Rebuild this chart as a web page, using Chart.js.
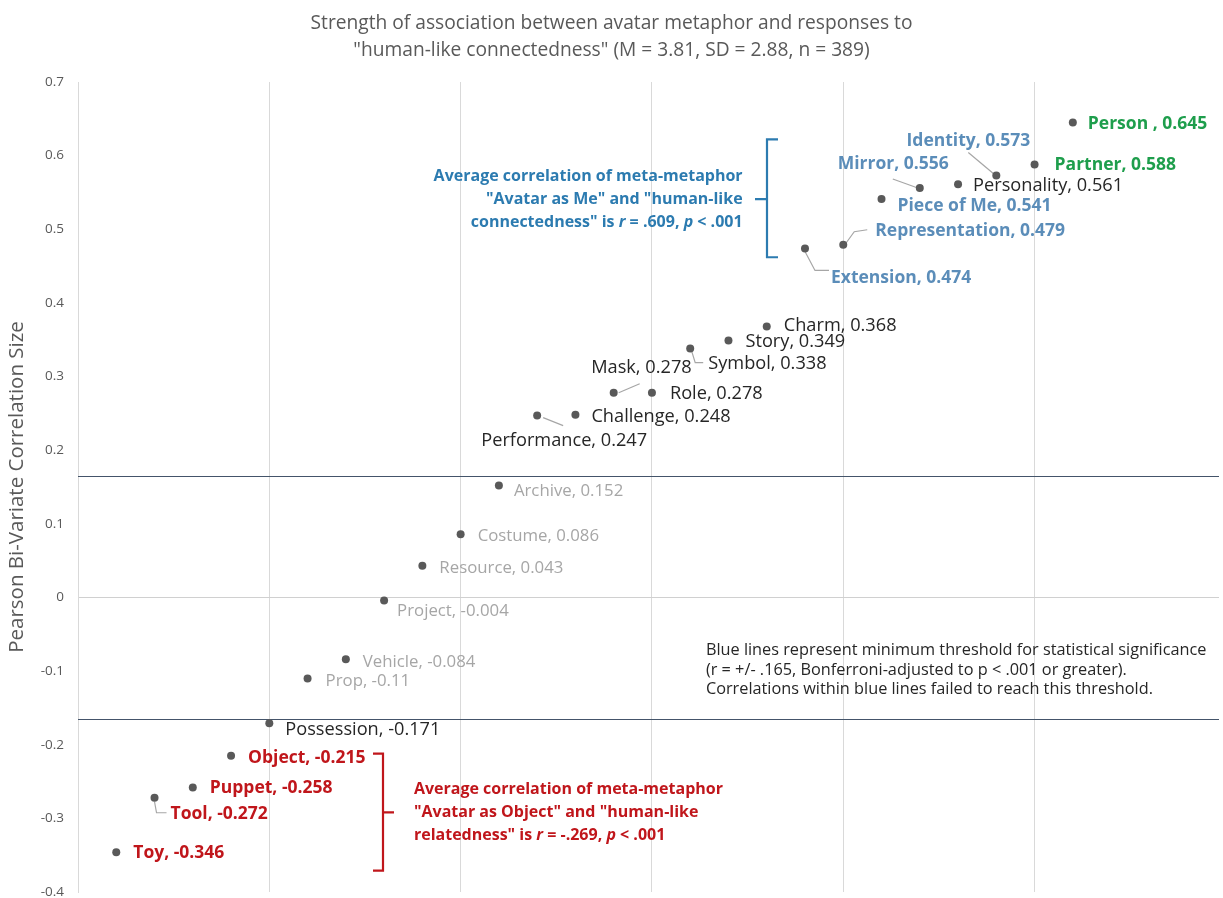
<!DOCTYPE html>
<html>
<head>
<meta charset="utf-8"/>
<style>
  html,body{margin:0;padding:0;background:#fff;overflow:hidden;}
  .wrap{position:relative;width:1223px;height:898px;}
</style>
</head>
<body>
<div class="wrap"><canvas id="c" width="1223" height="898"></canvas></div>
<script src="https://cdn.jsdelivr.net/npm/chart.js@4.4.0/dist/chart.umd.min.js"></script>
<script>
// metaphors sorted by correlation, rank = x position
const metaphors = ['Toy','Tool','Puppet','Object','Possession','Prop','Vehicle','Project','Resource','Costume',
  'Archive','Performance','Challenge','Mask','Role','Symbol','Story','Charm','Extension','Representation',
  'Piece of Me','Mirror','Personality','Identity','Partner','Person '];
const ranks = [1,2,3,4,5,6,7,8,9,10,11,12,13,14,15,16,17,18,19,20,21,22,23,24,25,26];
const correlations = [-0.346,-0.272,-0.258,-0.215,-0.171,-0.11,-0.084,-0.004,0.043,0.086,
  0.152,0.247,0.248,0.278,0.278,0.338,0.349,0.368,0.474,0.479,
  0.541,0.556,0.561,0.573,0.588,0.645];
const yMin = -0.4, yMax = 0.7, yStep = 0.1;
const xMax = 29.82, xStep = 5;
const threshold = 0.165;

const titleLines = [
  'Strength of association between avatar metaphor and responses to',
  '"human-like connectedness" (M = 3.81, SD = 2.88, n = 389)'
];
const yTitle = 'Pearson Bi-Variate Correlation Size';
const noteLines = [
  'Blue lines represent minimum threshold for statistical significance',
  '(r = +/- .165, Bonferroni-adjusted to p < .001 or greater).',
  'Correlations within blue lines failed to reach this threshold.'
];
const meNote = [
  [['Average correlation of meta-metaphor', false]],
  [['"Avatar as Me" and "human-like', false]],
  [['connectedness" is ', false], ['r', true], [' = .609, ', false], ['p', true], [' < .001', false]]
];
const objectNote = [
  [['Average correlation of meta-metaphor', false]],
  [['"Avatar as Object" and "human-like', false]],
  [['relatedness" is ', false], ['r', true], [' = -.269, ', false], ['p', true], [' < .001', false]]
];

const FONT = '"Open Sans", "Noto Sans", sans-serif';
const groupStyle = {
  red:   { color: '#C0161B', font: 'bold 17.5px ' + FONT },
  grey:  { color: '#A6A6A6', font: '16.8px ' + FONT },
  dark:  { color: '#262626', font: '18.2px ' + FONT },
  blue:  { color: '#5B8DB9', font: 'bold 17.5px ' + FONT },
  green: { color: '#1E9E4C', font: 'bold 17.5px ' + FONT }
};

// label placement relative to each dot (px)
const labelLayout = {
  'Toy':            { g: 'red',   dx: 17, dy: 1 },
  'Tool':           { g: 'red',   dx: 16, dy: 16, leader: [[0,4],[2,15],[12,15]] },
  'Puppet':         { g: 'red',   dx: 17, dy: 1 },
  'Object':         { g: 'red',   dx: 17, dy: 2 },
  'Possession':     { g: 'dark',  dx: 16, dy: 6 },
  'Prop':           { g: 'grey',  dx: 18, dy: 3 },
  'Vehicle':        { g: 'grey',  dx: 17, dy: 3 },
  'Project':        { g: 'grey',  dx: 13, dy: 11 },
  'Resource':       { g: 'grey',  dx: 17, dy: 2 },
  'Costume':        { g: 'grey',  dx: 17, dy: 2 },
  'Archive':        { g: 'grey',  dx: 15, dy: 6 },
  'Performance':    { g: 'dark',  dx: 110, dy: 25, align: 'right', leader: [[6,2],[26,10]] },
  'Challenge':      { g: 'dark',  dx: 16, dy: 2 },
  'Mask':           { g: 'dark',  dx: 78, dy: -25, align: 'right', leader: [[5,0],[26,-9]] },
  'Role':           { g: 'dark',  dx: 18, dy: 1 },
  'Symbol':         { g: 'dark',  dx: 18, dy: 15, leader: [[1,1],[5,14],[13,14]] },
  'Story':          { g: 'dark',  dx: 17, dy: 1 },
  'Charm':          { g: 'dark',  dx: 17, dy: -1 },
  'Extension':      { g: 'blue',  dx: 26, dy: 30, leader: [[0,3],[10,22],[24,22]] },
  'Representation': { g: 'blue',  dx: 32, dy: -14, leader: [[3,-2],[11,-13],[24,-15]] },
  'Piece of Me':    { g: 'blue',  dx: 16, dy: 7 },
  'Mirror':         { g: 'blue',  dx: 29, dy: -24, align: 'right', leader: [[-27,-9],[-2,0]] },
  'Personality':    { g: 'dark',  dx: 15, dy: 1 },
  'Identity':       { g: 'blue',  dx: 34, dy: -35, align: 'right', leader: [[-28,-23],[-3,-2]] },
  'Partner':        { g: 'green', dx: 20, dy: 1 },
  'Person':         { g: 'green', dx: 15, dy: 2 }
};

// annotation anchors in data units
const meBrace = { x: 18.0, top: 0.622, bottom: 0.462, mid: 0.541, color: '#2C7BB0' };
const objBrace = { x: 7.97, top: -0.212, bottom: -0.371, mid: -0.292, color: '#C0161B' };
const meNoteAt = { x: 17.37, y: 0.572, align: 'right', color: '#2C7BB0' };
const objNoteAt = { x: 8.78, y: -0.261, align: 'left', color: '#C0161B' };
const sigNoteAt = { x: 16.41, y: -0.072 };

function drawRuns(ctx, runs, x, y, align, size) {
  const fN = 'bold ' + size + 'px ' + FONT, fI = 'italic bold ' + size + 'px ' + FONT;
  let total = 0;
  runs.forEach(r => { ctx.font = r[1] ? fI : fN; total += ctx.measureText(r[0]).width; });
  let cx = align === 'right' ? x - total : x;
  ctx.textAlign = 'left';
  runs.forEach(r => {
    ctx.font = r[1] ? fI : fN;
    ctx.fillText(r[0], cx, y);
    cx += ctx.measureText(r[0]).width;
  });
}

const decor = {
  id: 'decor',
  beforeDatasetsDraw(chart) {
    const { ctx, chartArea: a, scales: { x, y } } = chart;
    ctx.save();
    // significance thresholds
    ctx.strokeStyle = '#44546A';
    ctx.lineWidth = 1.2;
    [threshold, -threshold].forEach(t => {
      const py = Math.round(y.getPixelForValue(t)) + 0.5;
      ctx.beginPath(); ctx.moveTo(a.left, py); ctx.lineTo(a.right, py); ctx.stroke();
    });
    // leader lines
    ctx.strokeStyle = '#A6A6A6';
    ctx.lineWidth = 1.2;
    const meta = chart.getDatasetMeta(0);
    metaphors.forEach((m, i) => {
      const L = labelLayout[m.trim()];
      if (!L.leader) return;
      const p = meta.data[i];
      ctx.beginPath();
      L.leader.forEach((q, k) => {
        const fn = k ? 'lineTo' : 'moveTo';
        ctx[fn](p.x + q[0], p.y + q[1]);
      });
      ctx.stroke();
    });
    ctx.restore();
  },
  afterDatasetsDraw(chart) {
    const { ctx, scales: { x, y } } = chart;
    const meta = chart.getDatasetMeta(0);
    ctx.save();
    ctx.textBaseline = 'middle';
    // point labels
    metaphors.forEach((m, i) => {
      const L = labelLayout[m.trim()];
      const s = groupStyle[L.g];
      const p = meta.data[i];
      ctx.font = s.font;
      ctx.fillStyle = s.color;
      ctx.textAlign = L.align || 'left';
      ctx.fillText(m + ', ' + correlations[i], p.x + L.dx, p.y + L.dy);
    });
    // braces
    ctx.lineWidth = 2.2;
    const bx = Math.round(x.getPixelForValue(meBrace.x));
    ctx.strokeStyle = meBrace.color;
    ctx.beginPath();
    ctx.moveTo(bx + 11, y.getPixelForValue(meBrace.top));
    ctx.lineTo(bx, y.getPixelForValue(meBrace.top));
    ctx.lineTo(bx, y.getPixelForValue(meBrace.bottom));
    ctx.lineTo(bx + 11, y.getPixelForValue(meBrace.bottom));
    ctx.moveTo(bx, y.getPixelForValue(meBrace.mid));
    ctx.lineTo(bx - 12, y.getPixelForValue(meBrace.mid));
    ctx.stroke();
    const rx = Math.round(x.getPixelForValue(objBrace.x));
    ctx.strokeStyle = objBrace.color;
    ctx.beginPath();
    ctx.moveTo(rx - 10, y.getPixelForValue(objBrace.top));
    ctx.lineTo(rx, y.getPixelForValue(objBrace.top));
    ctx.lineTo(rx, y.getPixelForValue(objBrace.bottom));
    ctx.lineTo(rx - 10, y.getPixelForValue(objBrace.bottom));
    ctx.moveTo(rx, y.getPixelForValue(objBrace.mid));
    ctx.lineTo(rx + 11, y.getPixelForValue(objBrace.mid));
    ctx.stroke();
    // meta-metaphor notes
    [[meNote, meNoteAt], [objectNote, objNoteAt]].forEach(([lines, at]) => {
      ctx.fillStyle = at.color;
      const px = x.getPixelForValue(at.x), py = y.getPixelForValue(at.y);
      lines.forEach((runs, k) => drawRuns(ctx, runs, px, py + k * 23, at.align, 16));
    });
    // significance note
    ctx.font = '16.3px ' + FONT;
    ctx.fillStyle = '#262626';
    ctx.textAlign = 'left';
    const nx = x.getPixelForValue(sigNoteAt.x), ny = y.getPixelForValue(sigNoteAt.y);
    noteLines.forEach((t, k) => ctx.fillText(t, nx, ny + k * 19.5));
    // title
    ctx.font = '19.2px ' + FONT;
    ctx.fillStyle = '#595959';
    ctx.textAlign = 'center';
    titleLines.forEach((t, k) => ctx.fillText(t, chart.width / 2, 24 + k * 27));
    ctx.restore();
  }
};

new Chart(document.getElementById('c'), {
  type: 'scatter',
  data: {
    datasets: [{
      data: ranks.map((r, i) => ({ x: r, y: correlations[i] })),
      pointRadius: 4,
      pointBackgroundColor: '#595959',
      pointBorderWidth: 0
    }]
  },
  options: {
    responsive: false,
    animation: false,
    layout: { padding: { top: 82, bottom: 6, left: 0, right: 0 } },
    plugins: { legend: { display: false }, tooltip: { enabled: false } },
    scales: {
      x: {
        type: 'linear', min: 0, max: xMax,
        afterFit: s => { s.height = 0; s.paddingLeft = 0; s.paddingRight = 0; },
        ticks: { display: false, stepSize: xStep },
        grid: { color: c => (c.tick && c.tick.value % xStep === 0) ? '#D9D9D9' : 'rgba(0,0,0,0)', drawTicks: false },
        border: { display: false }
      },
      y: {
        min: yMin, max: yMax,
        afterFit: s => { s.width = 78; s.paddingTop = 0; s.paddingBottom = 0; },
        ticks: {
          stepSize: yStep, padding: 14, color: '#595959',
          font: { family: FONT, size: 13.5 },
          callback: v => String(Math.round(v * 10) / 10)
        },
        grid: { color: c => (c.tick && Math.abs(c.tick.value) < 1e-9) ? '#D0D0D0' : 'rgba(0,0,0,0)', drawTicks: false },
        border: { display: true, color: '#D9D9D9' },
        title: { display: true, text: yTitle, color: '#595959', font: { family: FONT, size: 20.5 }, padding: { top: 5, bottom: 0 } }
      }
    }
  },
  plugins: [decor]
});
</script>
</body>
</html>
